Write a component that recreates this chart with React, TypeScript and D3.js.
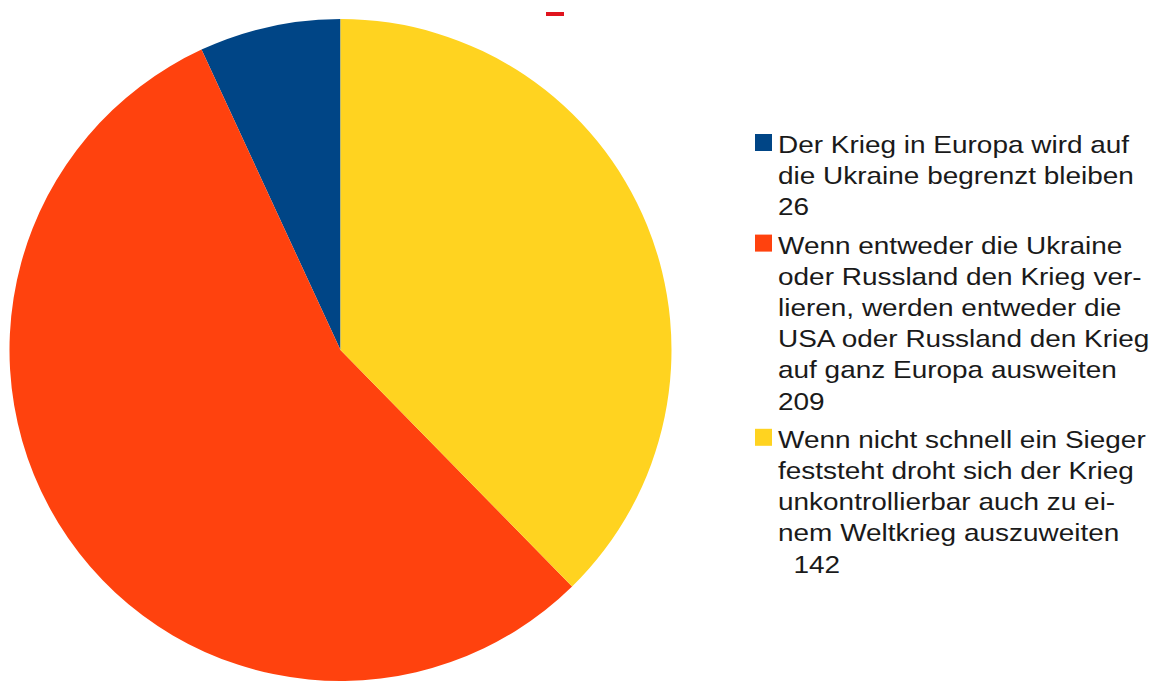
import { useEffect, useRef } from 'react';
import * as d3 from 'd3';

const width = 1155;
const height = 684;

// legend order (pie is drawn counter-clockwise from 12 o'clock in this order)
const labels = [
  ['Der Krieg in Europa wird auf', 'die Ukraine begrenzt bleiben', '26'],
  [
    'Wenn entweder die Ukraine',
    'oder Russland den Krieg ver-',
    'lieren, werden entweder die',
    'USA oder Russland den Krieg',
    'auf ganz Europa ausweiten',
    '209',
  ],
  [
    'Wenn nicht schnell ein Sieger',
    'feststeht droht sich der Krieg',
    'unkontrollierbar auch zu ei-',
    'nem Weltkrieg auszuweiten',
    '  142',
  ],
];
const values = [26, 209, 142];
const colors = ['#004586', '#ff420e', '#ffd320'];

export default function App() {
  const svgRef = useRef<SVGSVGElement>(null);

  useEffect(() => {
    if (!svgRef.current) return;
    const svg = d3.select(svgRef.current);
    svg.selectAll('*').remove();

    svg.append('rect').attr('width', width).attr('height', height).attr('fill', '#ffffff');

    // small red remnant at the top
    svg.append('rect')
      .attr('x', 546)
      .attr('y', 12)
      .attr('width', 18)
      .attr('height', 4)
      .attr('fill', '#e0141e');

    const cx = 340.5;
    const cy = 350;
    const radius = 331;

    const pie = d3.pie<number>()
      .sort(null)
      .startAngle(2 * Math.PI)
      .endAngle(0);
    const arc = d3.arc<d3.PieArcDatum<number>>().innerRadius(0).outerRadius(radius);

    const g = svg.append('g').attr('transform', `translate(${cx},${cy})`);
    g.selectAll('path')
      .data(pie(values))
      .join('path')
      .attr('d', arc)
      .attr('fill', (_, i) => colors[i]);

    // Legend
    const lineHeight = 31.2;
    const itemGap = 7;
    const legend = svg.append('g');
    let baseline = 153;
    labels.forEach((lines, i) => {
      legend.append('rect')
        .attr('x', 755)
        .attr('y', baseline - 19)
        .attr('width', 17)
        .attr('height', 17)
        .attr('fill', colors[i]);

      const t = legend.append('text')
        .attr('transform', `translate(778,${baseline}) scale(1.165,1)`)
        .attr('font-family', '"Liberation Sans", Arial, sans-serif')
        .attr('font-size', 24)
        .attr('fill', '#1a1a1a')
        .attr('xml:space', 'preserve')
        .style('white-space', 'pre');
      lines.forEach((line, j) => {
        t.append('tspan')
          .attr('x', 0)
          .attr('y', j * lineHeight)
          .text(line);
      });
      baseline += lines.length * lineHeight + itemGap;
    });
  }, []);

  return (
    <svg
      ref={svgRef}
      width={width}
      height={height}
      style={{ position: 'absolute', left: 0, top: 0, display: 'block' }}
    />
  );
}
